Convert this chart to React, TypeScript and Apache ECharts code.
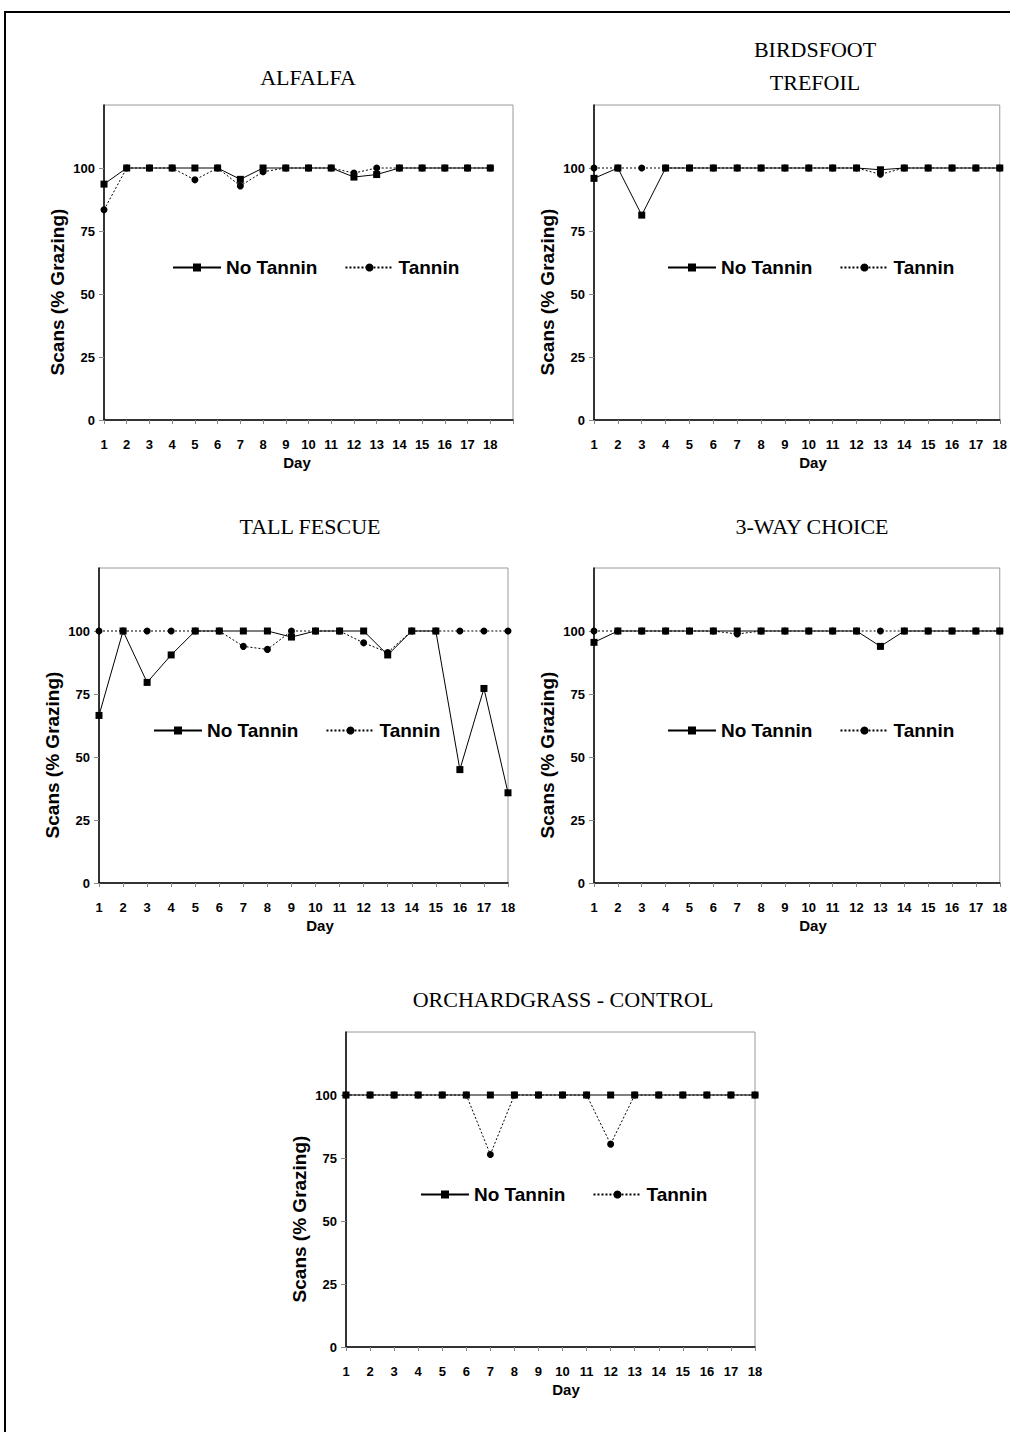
import React, { useEffect, useRef } from "react";
import * as echarts from "echarts";

// ---------- data ----------
const days = [1, 2, 3, 4, 5, 6, 7, 8, 9, 10, 11, 12, 13, 14, 15, 16, 17, 18];
const yTickValues = [0, 25, 50, 75, 100];
const seriesNames = ["No Tannin", "Tannin"];
const panelTitles = ["ALFALFA", "BIRDSFOOT\nTREFOIL", "TALL FESCUE", "3-WAY CHOICE", "ORCHARDGRASS - CONTROL"];
const yAxisTitle = "Scans (% Grazing)";
const xAxisTitle = "Day";

const alfalfaNoTannin = [93.6, 100, 100, 100, 100, 100, 95.5, 100, 100, 100, 100, 96.4, 97.4, 100, 100, 100, 100, 100];
const alfalfaTannin = [83.4, 100, 100, 100, 95.3, 100, 92.9, 98.5, 100, 100, 100, 98, 100, 100, 100, 100, 100, 100];

const birdsfootNoTannin = [95.9, 100, 81.3, 100, 100, 100, 100, 100, 100, 100, 100, 100, 99.3, 100, 100, 100, 100, 100];
const birdsfootTannin = [100, 100, 100, 100, 100, 100, 100, 100, 100, 100, 100, 100, 97.5, 100, 100, 100, 100, 100];

const fescueNoTannin = [66.5, 100, 79.6, 90.5, 100, 100, 100, 100, 97.6, 100, 100, 100, 90.5, 100, 100, 45, 77.2, 35.8];
const fescueTannin = [100, 100, 100, 100, 100, 100, 93.9, 92.7, 100, 100, 100, 95.3, 91.5, 100, 100, 100, 100, 100];

const threeWayNoTannin = [95.5, 100, 100, 100, 100, 100, 100, 100, 100, 100, 100, 100, 93.9, 100, 100, 100, 100, 100];
const threeWayTannin = [100, 100, 100, 100, 100, 100, 98.8, 100, 100, 100, 100, 100, 100, 100, 100, 100, 100, 100];

const orchardNoTannin = [100, 100, 100, 100, 100, 100, 100, 100, 100, 100, 100, 100, 100, 100, 100, 100, 100, 100];
const orchardTannin = [100, 100, 100, 100, 100, 100, 76.4, 100, 100, 100, 100, 80.5, 100, 100, 100, 100, 100, 100];

const panelData = [
  [alfalfaNoTannin, alfalfaTannin],
  [birdsfootNoTannin, birdsfootTannin],
  [fescueNoTannin, fescueTannin],
  [threeWayNoTannin, threeWayTannin],
  [orchardNoTannin, orchardTannin],
];

// ---------- layout ----------
const layout = [
  { left: 104, top: 105, width: 409, height: 315, xMax: 19, legendDx: 68, titleX: 308, titleY: 77, dayX: 297 },
  { left: 594, top: 105, width: 409, height: 315, xMax: 18, legendDx: 73, titleX: 815, titleY: 66, dayX: 813 },
  { left: 99, top: 568, width: 409, height: 315, xMax: 18, legendDx: 54, titleX: 310, titleY: 526, dayX: 320 },
  { left: 594, top: 568, width: 409, height: 315, xMax: 18, legendDx: 73, titleX: 812, titleY: 526, dayX: 813 },
  { left: 346, top: 1032, width: 409, height: 315, xMax: 18, legendDx: 74, titleX: 563, titleY: 999, dayX: 566 },
];

const SANS = "'Liberation Sans', Arial, Helvetica, sans-serif";
const SERIF = "'Liberation Serif', 'Times New Roman', Times, serif";

export default function App() {
  const ref = useRef<HTMLDivElement>(null);

  useEffect(() => {
    if (!ref.current) return;
    const chart = echarts.init(ref.current, undefined, { renderer: "svg" });

    const grids: any[] = [];
    const xAxes: any[] = [];
    const yAxes: any[] = [];
    const series: any[] = [];
    const legends: any[] = [];
    const graphics: any[] = [];

    graphics.push({
      type: "rect",
      shape: { x: 5, y: 12, width: 1030, height: 1450 },
      style: { fill: "none", stroke: "#000", lineWidth: 2 },
      z: 0,
    });

    layout.forEach((p, i) => {
      grids.push({
        left: p.left,
        top: p.top,
        width: p.width,
        height: p.height,
        show: true,
        borderColor: "#9a9a9a",
        borderWidth: 1,
        backgroundColor: "transparent",
      });
      xAxes.push({
        type: "value",
        gridIndex: i,
        min: 1,
        max: p.xMax,
        interval: 1,
        axisLine: { show: true, onZero: false, lineStyle: { color: "#000", width: 1.5 } },
        axisTick: { show: true, inside: false, length: 4, lineStyle: { color: "#888", width: 1 } },
        axisLabel: {
          customValues: days,
          margin: 18,
          color: "#000",
          fontSize: 13,
          fontWeight: "bold",
          fontFamily: SANS,
        },
        splitLine: { show: false },
      });
      yAxes.push({
        type: "value",
        gridIndex: i,
        min: 0,
        max: 125,
        interval: 25,
        axisLine: { show: true, onZero: false, lineStyle: { color: "#000", width: 1.5 } },
        axisTick: { show: true, customValues: yTickValues, length: 5, lineStyle: { color: "#888", width: 1 } },
        axisLabel: {
          customValues: yTickValues,
          margin: 9,
          color: "#000",
          fontSize: 13,
          fontWeight: "bold",
          fontFamily: SANS,
        },
        splitLine: { show: false },
      });

      const [noT, t] = panelData[i];
      series.push({
        name: seriesNames[0],
        type: "line",
        xAxisIndex: i,
        yAxisIndex: i,
        data: days.map((d, j) => [d, noT[j]]),
        symbol: "rect",
        symbolSize: 7,
        showSymbol: true,
        lineStyle: { color: "#000", width: 1, type: "solid" },
        itemStyle: { color: "#000" },
        z: 3,
      });
      series.push({
        name: seriesNames[1],
        type: "line",
        xAxisIndex: i,
        yAxisIndex: i,
        data: days.map((d, j) => [d, t[j]]),
        symbol: "circle",
        symbolSize: 7,
        showSymbol: true,
        lineStyle: { color: "#000", width: 1, type: [2, 2] },
        itemStyle: { color: "#000" },
        z: 4,
      });

      legends.push({
        data: seriesNames,
        left: p.left + p.legendDx,
        top: p.top + 153,
        padding: 0,
        orient: "horizontal",
        itemWidth: 48,
        itemHeight: 10,
        itemGap: 27,
        selectedMode: false,
        textStyle: { color: "#000", fontSize: 19, fontWeight: "bold", fontFamily: SANS },
      });

      graphics.push({
        type: "text",
        x: p.titleX,
        y: p.titleY,
        style: {
          text: panelTitles[i],
          fill: "#000",
          fontSize: 22,
          lineHeight: 33,
          fontFamily: SERIF,
          align: "center",
          verticalAlign: "middle",
        },
      });
      graphics.push({
        type: "text",
        x: p.left - 47,
        y: p.top + p.height - 128,
        rotation: Math.PI / 2,
        style: {
          text: yAxisTitle,
          fill: "#000",
          fontSize: 19,
          fontWeight: "bold",
          fontFamily: SANS,
          align: "center",
          verticalAlign: "middle",
        },
      });
      graphics.push({
        type: "text",
        x: p.dayX,
        y: p.top + p.height + 42,
        style: {
          text: xAxisTitle,
          fill: "#000",
          fontSize: 15,
          fontWeight: "bold",
          fontFamily: SANS,
          align: "center",
          verticalAlign: "middle",
        },
      });
    });

    chart.setOption({
      animation: false,
      backgroundColor: "#fff",
      grid: grids,
      xAxis: xAxes,
      yAxis: yAxes,
      legend: legends,
      series,
      graphic: graphics,
    });

    return () => chart.dispose();
  }, []);

  return (
    <div
      ref={ref}
      style={{ position: "absolute", left: 0, top: 0, width: 1010, height: 1432, background: "#fff" }}
    />
  );
}
